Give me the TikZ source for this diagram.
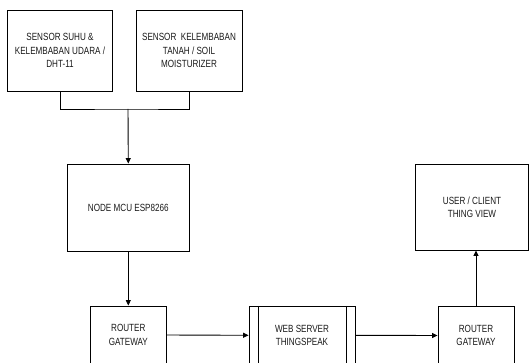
\documentclass[tikz,border=0pt]{standalone}
\usepackage{fontspec}
\setmainfont{Liberation Sans}[FakeStretch=0.78]
\usetikzlibrary{arrows.meta}

\tikzset{
  blok/.style={draw, line width=0.9pt, align=center, inner sep=1pt,
    font=\fontsize{10.4}{13.3}\selectfont, text=black!90},
  panah/.style={line width=0.9pt, -{Triangle[length=5.5pt,width=5pt]}},
  garis/.style={line width=0.9pt}
}

\begin{document}
\begin{tikzpicture}[x=1pt,y=1pt,yscale=-1,xscale=1]
    \clip (0,0) rectangle (529,363);
    
    % Sensor
    \node[blok, minimum width=105pt, minimum height=81pt] (suhu) at (60,50.5)
      {SENSOR SUHU \&\\KELEMBABAN UDARA /\\DHT-11};
    \node[blok, minimum width=106pt, minimum height=81pt] (tanah) at (189,50.5)
      {SENSOR\ \ KELEMBABAN\\TANAH / SOIL\\MOISTURIZER};
    \coordinate (gabung) at (128,109);
    % Node MCU
    \node[blok, minimum width=121.5pt, minimum height=87pt] (mcu) at (128.3,207.5)
      {NODE MCU ESP8266};
    % Router & server
    \node[blok, minimum width=75.5pt, minimum height=58pt] (router1) at (128.3,335)
      {ROUTER\\GATEWAY};
    \node[blok, minimum width=106pt, minimum height=58pt] (server) at (302,335.3)
      {WEB SERVER\\THINGSPEAK};
    \draw[garis] ([xshift=10pt]server.north west) -- ([xshift=10pt]server.south west);
    \draw[garis] ([xshift=-9pt]server.north east) -- ([xshift=-9pt]server.south east);
    \node[blok, minimum width=76pt, minimum height=58pt] (router2) at (476,335.5)
      {ROUTER\\GATEWAY};
    % User
    \node[blok, minimum width=113pt, minimum height=86pt] (user) at (472,207)
      {USER / CLIENT\\THING VIEW};
    
    % Connection
    \draw[garis] (suhu.south) |- (gabung) -| (tanah.south);
    \draw[panah] (gabung) -- (mcu.north);
    \draw[panah] (mcu.south) -- (router1.north);
    \draw[panah] (router1.east) -- (server.west);
    \draw[panah] (server.east) -- (router2.west);
    \draw[panah] (router2.north) -- (router2.north |- user.south);
    
\end{tikzpicture}
\end{document}
